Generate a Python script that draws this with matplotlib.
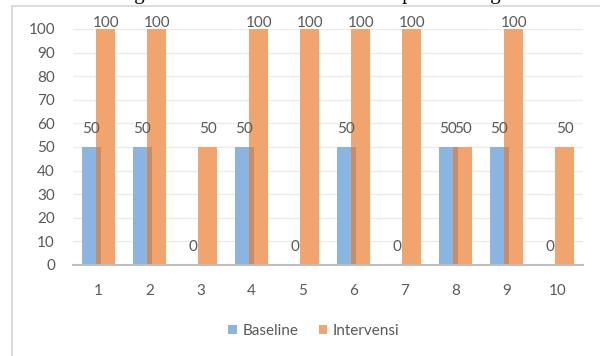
import matplotlib
matplotlib.use("Agg")
import matplotlib.pyplot as plt
from matplotlib.lines import Line2D
from matplotlib.patches import Patch
import numpy as np

# Data
categories = ["1", "2", "3", "4", "5", "6", "7", "8", "9", "10"]
baseline = [50, 50, 0, 50, 0, 50, 0, 50, 50, 0]
intervensi = [100, 100, 50, 100, 100, 100, 100, 50, 100, 50]
y_ticks = [0, 10, 20, 30, 40, 50, 60, 70, 80, 90, 100]
series_names = ["Baseline", "Intervensi"]
title = "Diagram 4.1 Data Baseline Kemampuan Orang Tua"

BLUE = "#8AB5E1"
ORANGE = "#F1A46E"
OVERLAP = "#CB8B63"
TEXT = "#595959"
FONT = "Lato"

fig = plt.figure(figsize=(6.0, 3.56), dpi=100)
fig.patch.set_facecolor("white")

# chart frame (left and top edges)
fig.add_artist(Line2D([11.5 / 600, 11.5 / 600], [0, 1 - 5.5 / 356],
                      color="#D9D9D9", lw=1.3, transform=fig.transFigure))
fig.add_artist(Line2D([11.5 / 600, 1], [1 - 5.5 / 356, 1 - 5.5 / 356],
                      color="#D9D9D9", lw=1.3, transform=fig.transFigure))

# caption text above the frame (only its lower edge falls inside the image)
fig.text(0.535, 1 + 1.5 / 356, title, family="Liberation Serif", fontsize=15,
         ha="center", va="baseline", color="black")

ax = fig.add_axes([73 / 600, 1 - 265 / 356, 510 / 600, 236 / 356])
x = np.arange(len(categories))
w = 0.38
off = 0.143

ax.bar(x - off, baseline, width=w, color=BLUE, zorder=2)
ax.bar(x + off, intervensi, width=w, color=ORANGE, zorder=3)
# darker strip where the two bars overlap
ov = [min(b, v) for b, v in zip(baseline, intervensi)]
ax.bar(x, ov, width=w - 2 * off, color=OVERLAP, zorder=4)

# data labels
def label_y(v):
    return min(v + 5.9, 100.8)

for xi, v in zip(x, baseline):
    ax.text(xi - off, label_y(v), str(v), ha="center", va="baseline",
            fontsize=11, color=TEXT, family=FONT, zorder=6, clip_on=False)
for xi, v in zip(x, intervensi):
    ax.text(xi + off, label_y(v), str(v), ha="center", va="baseline",
            fontsize=11, color=TEXT, family=FONT, zorder=6, clip_on=False)

ax.set_xlim(-0.5, len(categories) - 0.5)
ax.set_ylim(0, 100)
ax.set_yticks(y_ticks)
ax.set_yticklabels([str(t) for t in y_ticks])
ax.set_xticks(x)
ax.set_xticklabels(categories)
for lab in ax.get_xticklabels() + ax.get_yticklabels():
    lab.set_family(FONT)
    lab.set_fontsize(11)
    lab.set_color(TEXT)
ax.tick_params(axis="both", length=0)
ax.tick_params(axis="x", pad=13.5)
ax.tick_params(axis="y", pad=13)

ax.grid(axis="y", color="#EBEBEB", lw=1.0, zorder=0)
ax.set_axisbelow(True)
for s in ["left", "right", "top"]:
    ax.spines[s].set_visible(False)
ax.spines["bottom"].set_color("#BFBFBF")
ax.spines["bottom"].set_linewidth(1.5)
ax.spines["bottom"].set_zorder(5)

handles = [Patch(facecolor=BLUE, edgecolor="none"),
           Patch(facecolor=ORANGE, edgecolor="none")]
leg = fig.legend(handles, series_names, loc="center",
                 bbox_to_anchor=(314 / 600, 1 - 331 / 356), ncol=2,
                 frameon=False, handlelength=0.55, handleheight=0.55,
                 handletextpad=0.4, columnspacing=1.3,
                 prop={"family": FONT, "size": 11})
for t in leg.get_texts():
    t.set_color(TEXT)

fig.savefig("out.png", dpi=100, facecolor="white")
